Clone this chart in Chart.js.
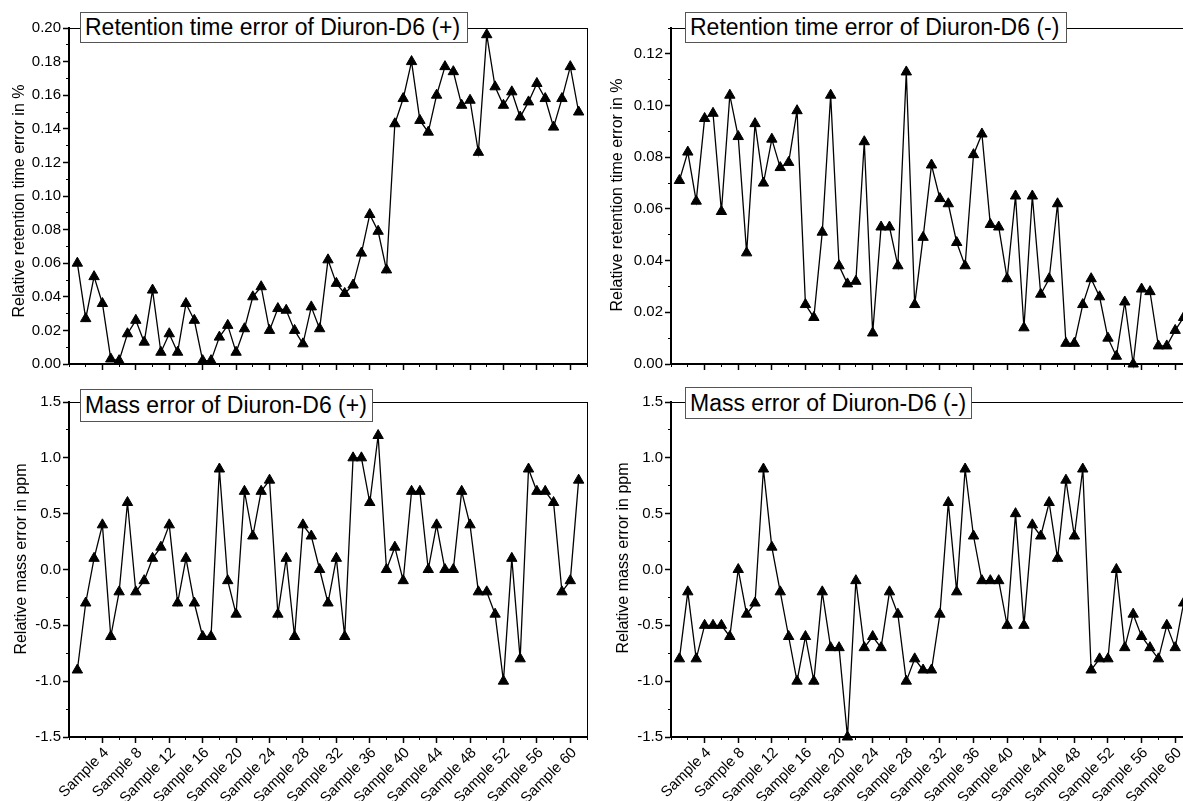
<!DOCTYPE html>
<html>
<head>
<meta charset="utf-8">
<script src="https://cdn.jsdelivr.net/npm/chart.js@4.4.1/dist/chart.umd.min.js"></script>
<style>
  html, body { margin:0; padding:0; background:#fff; width:1183px; height:801px; overflow:hidden; position:relative; }
  canvas { position:absolute; }
  .tbox { position:absolute; background:#fff; border:1px solid #555; font-family:"Liberation Sans", Arial, sans-serif; font-size:23px; color:#000; white-space:nowrap; box-sizing:border-box; padding-left:4px; z-index:2; }
  .ytitle { position:absolute; font-family:"Liberation Sans", Arial, sans-serif; font-size:16px; color:#000; white-space:nowrap; transform:translate(-50%,-50%) rotate(-90deg); }
</style>
</head>
<body>
<canvas id="c1" width="600" height="390" style="left:0px;top:0px"></canvas>
<canvas id="c2" width="603" height="390" style="left:602px;top:0px"></canvas>
<canvas id="c3" width="600" height="411" style="left:0px;top:390px"></canvas>
<canvas id="c4" width="603" height="411" style="left:602px;top:390px"></canvas>

<div class="tbox" style="left:80px;top:12px;width:388px;height:31px;line-height:29px;">Retention time error of Diuron-D6 (+)</div>
<div class="tbox" style="left:685px;top:12px;width:382px;height:31px;line-height:29px;">Retention time error of Diuron-D6 (-)</div>
<div class="tbox" style="left:80px;top:389px;width:293px;height:33px;line-height:31px;">Mass error of Diuron-D6 (+)</div>
<div class="tbox" style="left:685px;top:387px;width:287px;height:32px;line-height:30px;">Mass error of Diuron-D6 (-)</div>

<div class="ytitle" style="left:18.5px;top:201px;">Relative retention time error in %</div>
<div class="ytitle" style="left:617px;top:195px;">Relative retention time error in %</div>
<div class="ytitle" style="left:21px;top:559px;">Relative mass error in ppm</div>
<div class="ytitle" style="left:623px;top:558px;">Relative mass error in ppm</div>

<script>
// ---- Data ----
const sampleNumbers = Array.from({length: 61}, (_, i) => i + 1); // Sample 1 ... Sample 61

const rtErrorPos = [0.060,0.027,0.052,0.036,0.003,0.002,0.018,0.026,0.013,0.044,
                    0.007,0.018,0.007,0.036,0.026,0.002,0.002,0.016,0.023,0.007,
                    0.021,0.040,0.046,0.020,0.033,0.032,0.020,0.012,0.034,0.021,
                    0.062,0.048,0.042,0.047,0.066,0.089,0.079,0.056,0.143,0.158,
                    0.180,0.145,0.138,0.160,0.177,0.174,0.154,0.157,0.126,0.196,
                    0.165,0.154,0.162,0.147,0.156,0.167,0.158,0.141,0.158,0.177,
                    0.150];

const rtErrorNeg = [0.071,0.082,0.063,0.095,0.097,0.059,0.104,0.088,0.043,0.093,
                    0.070,0.087,0.076,0.078,0.098,0.023,0.018,0.051,0.104,0.038,
                    0.031,0.032,0.086,0.012,0.053,0.053,0.038,0.113,0.023,0.049,
                    0.077,0.064,0.062,0.047,0.038,0.081,0.089,0.054,0.053,0.033,
                    0.065,0.014,0.065,0.027,0.033,0.062,0.008,0.008,0.023,0.033,
                    0.026,0.010,0.003,0.024,0.000,0.029,0.028,0.007,0.007,0.013,
                    0.018];

const massErrorPos = [-0.9,-0.3,0.1,0.4,-0.6,-0.2,0.6,-0.2,-0.1,0.1,
                      0.2,0.4,-0.3,0.1,-0.3,-0.6,-0.6,0.9,-0.1,-0.4,
                      0.7,0.3,0.7,0.8,-0.4,0.1,-0.6,0.4,0.3,0.0,
                      -0.3,0.1,-0.6,1.0,1.0,0.6,1.2,0.0,0.2,-0.1,
                      0.7,0.7,0.0,0.4,0.0,0.0,0.7,0.4,-0.2,-0.2,
                      -0.4,-1.0,0.1,-0.8,0.9,0.7,0.7,0.6,-0.2,-0.1,
                      0.8];

const massErrorNeg = [-0.8,-0.2,-0.8,-0.5,-0.5,-0.5,-0.6,0.0,-0.4,-0.3,
                      0.9,0.2,-0.2,-0.6,-1.0,-0.6,-1.0,-0.2,-0.7,-0.7,
                      -1.5,-0.1,-0.7,-0.6,-0.7,-0.2,-0.4,-1.0,-0.8,-0.9,
                      -0.9,-0.4,0.6,-0.2,0.9,0.3,-0.1,-0.1,-0.1,-0.5,
                      0.5,-0.5,0.4,0.3,0.6,0.1,0.8,0.3,0.9,-0.9,
                      -0.8,-0.8,0.0,-0.7,-0.4,-0.6,-0.7,-0.8,-0.5,-0.7,
                      -0.3];

// ---- Tick positions ----
const xMajorTicks = [4,8,12,16,20,24,28,32,36,40,44,48,52,56,60];
const xMinorTicks = [0,2,4,6,8,10,12,14,16,18,20,22,24,26,28,30,32,34,36,38,40,42,44,46,48,50,52,54,56,58,60,62];
const rtPosMajor = [0,0.02,0.04,0.06,0.08,0.10,0.12,0.14,0.16,0.18,0.20];
const rtPosMinor = [0,0.01,0.02,0.03,0.04,0.05,0.06,0.07,0.08,0.09,0.10,0.11,0.12,0.13,0.14,0.15,0.16,0.17,0.18,0.19,0.20];
const rtNegMajor = [0,0.02,0.04,0.06,0.08,0.10,0.12];
const rtNegMinor = [0,0.01,0.02,0.03,0.04,0.05,0.06,0.07,0.08,0.09,0.10,0.11,0.12,0.13];
const massMajor = [-1.5,-1.0,-0.5,0.0,0.5,1.0,1.5];
const massMinor = [-1.5,-1.25,-1.0,-0.75,-0.5,-0.25,0,0.25,0.5,0.75,1.0,1.25,1.5];

Chart.defaults.font.family = '"Liberation Sans", Arial, sans-serif';
Chart.defaults.color = '#000';

function setTicks(list) {
  return function(scale) { scale.ticks = list.map(v => ({value: v})); };
}

function makeChart(id, values, yMin, yMax, yMajor, yMinor, yDecimals, showXLabels, padTop, xAxisHeight) {
  const ctx = document.getElementById(id);
  return new Chart(ctx, {
    type: 'line',
    data: {
      labels: sampleNumbers,
      datasets: [{
        data: values,
        xAxisID: 'x',
        yAxisID: 'y',
        borderColor: '#000',
        borderWidth: 1.3,
        pointStyle: 'triangle',
        pointRadius: 6,
        pointBorderWidth: 1,
        pointBackgroundColor: '#000',
        pointBorderColor: '#000',
        tension: 0,
        fill: false,
        clip: false
      }]
    },
    options: {
      responsive: false,
      animation: false,
      events: [],
      layout: { padding: { top: padTop, right: 13, left: 0, bottom: 0 }, autoPadding: false },
      plugins: { legend: { display: false }, tooltip: { enabled: false }, title: { display: false } },
      scales: {
        x: {
          type: 'linear', position: 'bottom', weight: 1, min: 0, max: 62,
          afterBuildTicks: setTicks(xMajorTicks),
          afterFit: s => { s.height = xAxisHeight; },
          ticks: {
            display: showXLabels, autoSkip: false, maxRotation: 45, minRotation: 45, padding: 1,
            labelOffset: 4,
            font: { size: 15 }, color: '#000',
            callback: v => 'Sample ' + v
          },
          grid: { drawOnChartArea: false, drawTicks: true, tickLength: 6, tickWidth: 1.5, tickColor: '#000', color: '#000' },
          border: { display: true, color: '#000', width: 2 }
        },
        xMinor: {
          type: 'linear', position: 'bottom', weight: 0, min: 0, max: 62,
          afterBuildTicks: setTicks(xMinorTicks),
          afterFit: s => { s.height = 0; },
          ticks: { display: false },
          grid: { drawOnChartArea: false, drawTicks: true, tickLength: 3, tickWidth: 1, tickColor: '#000', color: '#000' },
          border: { display: false }
        },
        xTop: {
          type: 'linear', position: 'top', min: 0, max: 62,
          afterFit: s => { s.height = 0; },
          ticks: { display: false },
          grid: { display: false },
          border: { display: true, color: '#000', width: 1 }
        },
        y: {
          type: 'linear', position: 'left', weight: 1, min: yMin, max: yMax,
          afterBuildTicks: setTicks(yMajor),
          afterFit: s => { s.width = 69; },
          ticks: { font: { size: 15 }, color: '#000', padding: 2, callback: v => v.toFixed(yDecimals) },
          grid: { drawOnChartArea: false, drawTicks: true, tickLength: 6, tickWidth: 1.5, tickColor: '#000', color: '#000' },
          border: { display: true, color: '#000', width: 2 }
        },
        yMinor: {
          type: 'linear', position: 'left', weight: 0, min: yMin, max: yMax,
          afterBuildTicks: setTicks(yMinor),
          afterFit: s => { s.width = 0; },
          ticks: { display: false },
          grid: { drawOnChartArea: false, drawTicks: true, tickLength: 3, tickWidth: 1, tickColor: '#000', color: '#000' },
          border: { display: false }
        },
        yRight: {
          type: 'linear', position: 'right', min: yMin, max: yMax,
          afterFit: s => { s.width = 0; },
          ticks: { display: false },
          grid: { display: false },
          border: { display: true, color: '#000', width: 1 }
        }
      }
    }
  });
}

makeChart('c1', rtErrorPos, 0, 0.20, rtPosMajor, rtPosMinor, 2, false, 28, 26);
makeChart('c2', rtErrorNeg, 0, 0.13, rtNegMajor, rtNegMinor, 2, false, 28, 26);
makeChart('c3', massErrorPos, -1.5, 1.5, massMajor, massMinor, 1, true, 12, 64);
makeChart('c4', massErrorNeg, -1.5, 1.5, massMajor, massMinor, 1, true, 12, 64);
</script>
</body>
</html>
